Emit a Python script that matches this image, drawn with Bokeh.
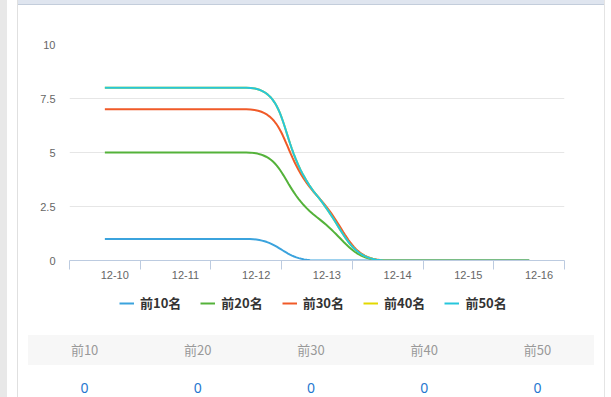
import math
import numpy as np
from bokeh.plotting import figure
from bokeh.models import Range1d, FixedTicker, Legend, LegendItem, Div
from bokeh.layouts import column, row
from bokeh.embed import file_html
from bokeh.resources import INLINE

# ---------------- data ----------------
dates = ["12-10", "12-11", "12-12", "12-13", "12-14", "12-15", "12-16"]
series_names = ["前10名", "前20名", "前30名", "前40名", "前50名"]
top10 = [1, 1, 1, 0, 0, 0, 0]
top20 = [5, 5, 5, 2, 0, 0, 0]
top30 = [7, 7, 7, 3, 0, 0, 0]
top40 = [8, 8, 8, 3, 0, 0, 0]
top50 = [8, 8, 8, 3, 0, 0, 0]
y_ticks = [0, 2.5, 5, 7.5, 10]
y_tick_labels = ["0", "2.5", "5", "7.5", "10"]
table_headers = ["前10", "前20", "前30", "前40", "前50"]
table_values = [0, 0, 0, 0, 0]

series_values = [top10, top20, top30, top40, top50]
colors = ["#3ba3dd", "#54b23a", "#f05a28", "#e3d800", "#26c6dc"]

# ---------------- layout constants ----------------
LEFT_W, RIGHT_W = 18, 7
W = 611 - LEFT_W - RIGHT_W          # 586
BAND_H = 5
P1_H = 280
LEG_H = 38
TABLE_H = 397 - BAND_H - P1_H - LEG_H   # 74
B_LEFT, B_RIGHT, B_TOP, B_BOTTOM = 51, 40, 39, 25
FRAME_W = W - B_LEFT - B_RIGHT
FRAME_H = P1_H - B_TOP - B_BOTTOM
Y_MAX = 10
LABEL_SHIFT = 0.14  # x labels sit slightly right of category centre

xs = list(range(len(dates)))
sx = FRAME_W / len(dates)   # px per category
sy = FRAME_H / Y_MAX        # px per unit


def echarts_smooth(xv, yv, smooth=0.5, n=30):
    """Smooth curve in the style of an ECharts 'smooth: true' line."""
    pts = [(x * sx, y * sy) for x, y in zip(xv, yv)]
    out_x, out_y = [pts[0][0]], [pts[0][1]]
    cp0 = pts[0]
    N = len(pts)
    for i in range(1, N):
        x, y = pts[i]
        px, py = pts[i - 1]
        if i == N - 1:
            cp1 = (x, y)
            ncp0 = None
        else:
            nx, ny = pts[i + 1]
            vx, vy = nx - px, ny - py
            l0 = math.hypot(x - px, y - py)
            l1 = math.hypot(nx - x, ny - y)
            r = l1 / (l0 + l1)
            ncx = x + vx * smooth * r
            ncy = y + vy * smooth * r
            ncx = max(min(ncx, max(nx, x)), min(nx, x))
            ncy = max(min(ncy, max(ny, y)), min(ny, y))
            vx, vy = ncx - x, ncy - y
            c1x = x - vx * l0 / l1
            c1y = y - vy * l0 / l1
            c1x = max(min(c1x, max(px, x)), min(px, x))
            c1y = max(min(c1y, max(py, y)), min(py, y))
            vx, vy = x - c1x, y - c1y
            ncx = x + vx * l1 / l0
            ncy = y + vy * l1 / l0
            cp1 = (c1x, c1y)
            ncp0 = (ncx, ncy)
        t = np.linspace(0, 1, n)[1:]
        bx = ((1 - t) ** 3) * px + 3 * ((1 - t) ** 2) * t * cp0[0] + 3 * (1 - t) * t ** 2 * cp1[0] + t ** 3 * x
        by = ((1 - t) ** 3) * py + 3 * ((1 - t) ** 2) * t * cp0[1] + 3 * (1 - t) * t ** 2 * cp1[1] + t ** 3 * y
        out_x.extend(bx.tolist())
        out_y.extend(by.tolist())
        cp0 = ncp0
    return [v / sx for v in out_x], [v / sy for v in out_y]


# ---------------- chart ----------------
p1 = figure(width=W, height=P1_H, output_backend="svg", toolbar_location=None,
            x_range=Range1d(-0.5, len(dates) - 0.5), y_range=Range1d(0, Y_MAX),
            min_border_left=B_LEFT, min_border_right=B_RIGHT,
            min_border_top=B_TOP, min_border_bottom=B_BOTTOM)
p1.outline_line_color = None
p1.background_fill_color = "white"
p1.border_fill_color = "white"

smoothed = []
for name, vals, col in zip(series_names, series_values, colors):
    lx, ly = echarts_smooth(xs, vals)
    smoothed.append((lx, ly))
    p1.line(lx, ly, line_color=col, line_width=2)

# y axis
yax = p1.yaxis[0]
yax.ticker = FixedTicker(ticks=y_ticks)
yax.major_label_overrides = {t: l for t, l in zip(y_ticks, y_tick_labels)}
yax.axis_line_color = None
yax.major_tick_line_color = None
yax.minor_tick_line_color = None
yax.major_tick_out = 0
yax.major_tick_in = 0
yax.major_label_standoff = 14
yax.major_label_text_font = "Liberation Sans"
yax.major_label_text_font_size = "11px"
yax.major_label_text_color = "#666666"

# x axis
xax = p1.xaxis[0]
label_pos = [i + LABEL_SHIFT for i in xs]
xax.ticker = FixedTicker(ticks=label_pos, minor_ticks=[i - 0.5 for i in range(len(dates) + 1)])
xax.major_label_overrides = {t: d for t, d in zip(label_pos, dates)}
xax.axis_line_color = "#bccbe0"
xax.major_tick_line_color = None
xax.major_tick_out = 0
xax.major_tick_in = 0
xax.minor_tick_line_color = "#bccbe0"
xax.minor_tick_out = 9
xax.minor_tick_in = 0
xax.major_label_standoff = 1
xax.major_label_text_font = "Liberation Sans"
xax.major_label_text_font_size = "11px"
xax.major_label_text_color = "#666666"

p1.xgrid.grid_line_color = None
p1.ygrid.grid_line_color = "#e6e6e6"
p1.ygrid.ticker = FixedTicker(ticks=y_ticks)

# ---------------- legend strip ----------------
# The legend lives in a thin plot of its own (a legend placed below the chart
# breaks the layout); its renderers carry the same series, kept out of view.
pl = figure(width=W, height=LEG_H, output_backend="svg", toolbar_location=None,
            x_range=Range1d(-20, -19), y_range=Range1d(0, 1),
            x_axis_type=None, y_axis_type=None, min_border=0)
pl.outline_line_color = None
pl.xgrid.grid_line_color = None
pl.ygrid.grid_line_color = None
pl.background_fill_color = "white"
pl.border_fill_color = "white"
leg_items = []
for name, col, (lx, ly) in zip(series_names, colors, smoothed):
    lr = pl.line(lx, ly, line_color=col, line_width=2)
    leg_items.append(LegendItem(label=name, renderers=[lr]))
legend = Legend(items=leg_items, orientation="horizontal", location=(50, 11),
                glyph_width=15, glyph_height=14, label_height=14,
                label_standoff=6, spacing=19, padding=0, margin=0,
                border_line_color=None, background_fill_alpha=0,
                label_text_font="Noto Sans CJK SC", label_text_font_style="bold",
                label_text_font_size="13px", label_text_color="#333333")
pl.add_layout(legend, "center")

# ---------------- table (HTML) ----------------
cell = "flex:1;text-align:center;"
header_cells = "".join(f'<div style="{cell}">{h}</div>' for h in table_headers)
value_cells = "".join(f'<div style="{cell}">{v}</div>' for v in table_values)
table_html = (
    f'<div style="width:{W}px;height:{TABLE_H}px;background:#fff;position:relative;">'
    '<div style="position:absolute;left:10px;top:12px;width:566px;height:30px;line-height:30px;'
    'background:#f7f7f7;display:flex;font-family:\'Noto Sans CJK SC\';font-size:13px;color:#999;">'
    + header_cells + '</div>'
    '<div style="position:absolute;left:10px;top:42px;width:566px;height:32px;line-height:46px;'
    'display:flex;font-family:\'Noto Sans\';font-size:14px;color:#1f77d0;">'
    + value_cells + '</div></div>'
)
table_div = Div(text=table_html, width=W, height=TABLE_H, margin=(0, 0, 0, 0))

# ---------------- panel decorations ----------------
band_div = Div(text="", width=W, height=BAND_H, margin=(0, 0, 0, 0),
               styles={"background": "linear-gradient(#dfe5ef 0px, #dfe5ef 4px, #c3cddb 4px, #c3cddb 5px)"})
left_div = Div(text='<div style="display:flex;height:397px;">'
                    '<div style="width:7px;background:#e8e8e8;"></div>'
                    '<div style="width:10px;background:#ffffff;"></div>'
                    '<div style="width:1px;background:#e0e0e0;"></div></div>',
               width=LEFT_W, height=397, margin=(0, 0, 0, 0))
right_div = Div(text='<div style="display:flex;height:397px;">'
                     '<div style="width:1px;background:#e4e4e4;"></div>'
                     '<div style="width:6px;background:#ffffff;"></div></div>',
                width=RIGHT_W, height=397, margin=(0, 0, 0, 0))

layout = row(left_div, column(band_div, p1, pl, table_div), right_div)

open("out.html", "w").write(file_html(layout, INLINE))
